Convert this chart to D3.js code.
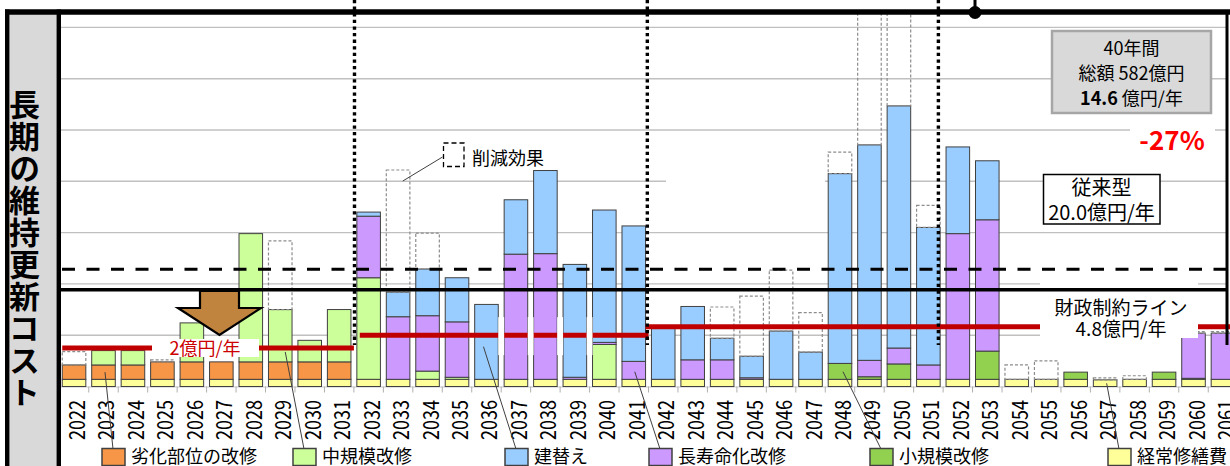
<!DOCTYPE html>
<html>
<head>
<meta charset="utf-8">
<script src="https://cdn.jsdelivr.net/npm/d3@7"></script>
<style>
  html, body { margin: 0; padding: 0; background: #fff; }
  svg { display: block; font-family: "Noto Sans CJK JP", "Noto Sans", sans-serif; }
</style>
</head>
<body>
<svg id="chart" width="1230" height="466"></svg>
<script>
// ---- data (億円) ----
const years = [2022, 2023, 2024, 2025, 2026, 2027, 2028, 2029, 2030, 2031,
               2032, 2033, 2034, 2035, 2036, 2037, 2038, 2039, 2040, 2041,
               2042, 2043, 2044, 2045, 2046, 2047, 2048, 2049, 2050, 2051,
               2052, 2053, 2054, 2055, 2056, 2057, 2058, 2059, 2060, 2061];

// 経常修繕費
const routine = [0.7, 0.7, 0.7, 0.7, 0.7, 0.7, 0.7, 0.7, 0.7, 0.7,
                 0.7, 0.7, 0.7, 0.7, 0.7, 0.7, 0.7, 0.7, 0.7, 0.7,
                 0.7, 0.7, 0.7, 0.7, 0.7, 0.7, 0.7, 0.7, 0.7, 0.7,
                 0.7, 0.7, 0.7, 0.7, 0.7, 0.65, 0.7, 0.7, 0.7, 0.7];
// 劣化部位の改修
const deterioration = [1.4, 1.4, 1.4, 1.7, 1.7, 1.7, 1.7, 1.7, 1.7, 1.7,
                       0, 0, 0, 0, 0, 0, 0, 0, 0, 0,
                       0, 0, 0, 0, 0, 0, 0, 0, 0, 0,
                       0, 0, 0, 0, 0, 0, 0, 0, 0, 0];
// 小規模改修
const smallRepair = [0, 0, 0, 0, 0, 0, 0, 0, 0, 0,
                     0, 0, 0, 0, 0, 0, 0, 0, 0, 0,
                     0, 0, 0, 0, 0, 0, 1.55, 0.25, 1.5, 0,
                     0, 2.75, 0, 0, 0.7, 0, 0, 0.7, 0.1, 0];
// 中規模改修
const midRepair = [0, 1.4, 1.4, 0, 3.8, 0, 12.5, 5.1, 2.1, 5.1,
                   9.9, 0, 0.8, 0.2, 0, 0, 0, 0, 3.4, 0,
                   0, 0, 0, 0, 0, 0, 0, 0, 0, 0,
                   0, 0, 0, 0, 0, 0, 0, 0, 0, 0];
// 長寿命化改修
const longLife = [0, 0, 0, 0, 0, 0, 0, 0, 0, 0,
                  6.0, 6.1, 5.4, 5.4, 0, 12.2, 12.25, 0.2, 0.2, 1.75,
                  0, 1.9, 1.9, 0.15, 0, 0, 0, 1.6, 1.55, 1.4,
                  14.2, 12.8, 0, 0, 0, 0, 0, 0, 4.4, 4.5];
// 建替え
const rebuild = [0, 0, 0, 0, 0, 0, 0, 0, 0, 0,
                 0.4, 2.4, 4.55, 4.3, 7.3, 5.3, 8.1, 11.0, 12.9, 13.2,
                 5.0, 5.2, 2.1, 2.1, 4.7, 2.65, 18.5, 21.0, 23.6, 13.4,
                 8.45, 5.75, 0, 0, 0, 0, 0, 0, 0, 0];
// 削減効果 (従来型との差)
const reduction = [1.3, 0, 0, 0.2, 0, 0, 0, 6.7, 0, 0,
                   0, 11.9, 3.5, 0, 0, 0, 0, 0, 0, 0,
                   0, 0, 3.05, 5.85, 5.95, 3.85, 2.1, 14.0, 11.0, 2.15,
                   0, 0, 1.4, 1.8, 0, 0.2, 0.35, 0, 0.15, 0.15];

const seriesKeys  = ["経常修繕費", "劣化部位の改修", "小規模改修", "中規模改修", "長寿命化改修", "建替え"];
const seriesData  = [routine, deterioration, smallRepair, midRepair, longLife, rebuild];
const seriesColor = ["#ffff99", "#f79646", "#92d050", "#ccff99", "#cc99ff", "#99ccff"];

const legendOrder = ["劣化部位の改修", "中規模改修", "建替え", "長寿命化改修", "小規模改修", "経常修繕費"];
const legendX = [102, 293, 505, 649, 870, 1108];

const gridValues = [5, 10, 15, 20, 25, 30, 35];

// reference lines (億円/年)
const conventionalAvg = 20.0;   // 従来型
const plannedAvg = 14.6;        // 40年間平均
const budgetSegments = [        // 財政制約ライン (start/end as fractional year positions)
  { from: 2021.6, to: 2031.5, value: 2.0 },
  { from: 2031.7, to: 2041.5, value: 3.7 },
  { from: 2041.4, to: 2062, value: 4.8 }
];
const periodBreaks = [2031.52, 2041.46, 2051.34];

// ---- scales ----
const svg = d3.select("#chart");
const W = 1230, H = 466;
const plotLeft = 61, plotRight = 1227, plotTop = 12;

const x = d3.scaleBand().domain(years).range([59.3, 1237.7]).paddingInner(0.2).paddingOuter(0.1);
const xc = d3.scaleLinear().domain([2022, 2061]).range([x(2022) + x.bandwidth() / 2, x(2061) + x.bandwidth() / 2]);
const y = d3.scaleLinear().domain([0, 35]).range([386.5, 27.4]);
// reference lines are drawn on their own (non-proportional) guide scale
const refY = d3.scaleLinear().domain([2, 4.8, 20]).range([348, 326.8, 269.3]);

svg.append("rect").attr("width", W).attr("height", H).attr("fill", "#fff");

const defs = svg.append("defs");
defs.append("clipPath").attr("id", "plotClip")
  .append("rect").attr("x", plotLeft).attr("y", plotTop + 2).attr("width", W - plotLeft).attr("height", 390);

// ---- gridlines ----
svg.append("g").selectAll("line").data(gridValues).join("line")
  .attr("x1", plotLeft).attr("x2", plotRight)
  .attr("y1", d => y(d)).attr("y2", d => y(d))
  .attr("stroke", "#c0c0c0").attr("stroke-width", 1.4);
svg.append("rect").attr("x", 666).attr("y", y(20) - 3).attr("width", 159).attr("height", 6).attr("fill", "#fff");

// baseline and ticks
svg.append("line").attr("x1", plotLeft).attr("x2", W).attr("y1", y(0) + 0.5).attr("y2", y(0) + 0.5)
  .attr("stroke", "#c8c8c8").attr("stroke-width", 1);
svg.append("g").selectAll("line").data(years.slice(1).concat([2062])).join("line")
  .attr("x1", d => x.step() * (d - 2022) + 59.3).attr("x2", d => x.step() * (d - 2022) + 59.3)
  .attr("y1", y(0)).attr("y2", y(0) + 6)
  .attr("stroke", "#b0b0b0").attr("stroke-width", 1);

// ---- stacked bars ----
const table = years.map((yr, i) => {
  const row = { year: yr };
  seriesKeys.forEach((k, j) => { row[k] = seriesData[j][i]; });
  row.reduction = reduction[i];
  return row;
});
const stacked = d3.stack().keys(seriesKeys)(table);

const barsG = svg.append("g").attr("clip-path", "url(#plotClip)");
stacked.forEach((layer, j) => {
  barsG.append("g").selectAll("rect").data(layer.filter(d => d[1] - d[0] > 0)).join("rect")
    .attr("x", d => x(d.data.year))
    .attr("width", x.bandwidth())
    .attr("y", d => y(d[1]))
    .attr("height", d => y(d[0]) - y(d[1]))
    .attr("fill", seriesColor[j])
    .attr("stroke", "#404040").attr("stroke-width", 1);
});
const totals = table.map(r => d3.sum(seriesKeys, k => r[k]));
barsG.append("g").selectAll("rect").data(table.filter(r => r.reduction > 0)).join("rect")
  .attr("x", d => x(d.year))
  .attr("width", x.bandwidth())
  .attr("y", d => y(totals[years.indexOf(d.year)] + d.reduction))
  .attr("height", d => y(totals[years.indexOf(d.year)]) - y(totals[years.indexOf(d.year)] + d.reduction))
  .attr("fill", "none")
  .attr("stroke", "#8c8c8c").attr("stroke-width", 1.2).attr("stroke-dasharray", "3,2");

// ---- down arrow ----
svg.append("path")
  .attr("d", "M200,291 L239,291 L239,308 L261,308 L219.5,335 L178,308 L200,308 Z")
  .attr("fill", "#c0843f").attr("stroke", "#000").attr("stroke-width", 2.2).attr("stroke-linejoin", "miter");

// ---- budget line (red) ----
svg.append("g").selectAll("line").data(budgetSegments).join("line")
  .attr("x1", d => xc(d.from))
  .attr("x2", d => Math.min(W, xc(d.to)))
  .attr("y1", d => refY(d.value)).attr("y2", d => refY(d.value))
  .attr("stroke", "#c00000").attr("stroke-width", 5);

// white gaps between bars 2036-2040 across the red line
svg.append("g").selectAll("rect").data([2036, 2037, 2038, 2039]).join("rect")
  .attr("x", d => x(d) + x.bandwidth())
  .attr("width", x.step() - x.bandwidth())
  .attr("y", refY(3.7) - 18).attr("height", 38)
  .attr("fill", "#fff");

// label boxes over the red line
svg.append("rect").attr("x", 152).attr("y", 339).attr("width", 107).attr("height", 18).attr("fill", "#fff");
svg.append("text").attr("x", 205).attr("y", 355).attr("text-anchor", "middle")
  .attr("font-size", 18).attr("fill", "#cc0000").text("2億円/年");

svg.append("rect").attr("x", 1040).attr("y", 281).attr("width", 158).attr("height", 57).attr("fill", "#fff");
svg.append("text").attr("x", 1121).attr("y", 315).attr("text-anchor", "middle")
  .attr("font-size", 19).attr("fill", "#000").text("財政制約ライン");
svg.append("text").attr("x", 1121).attr("y", 336).attr("text-anchor", "middle")
  .attr("font-size", 19).attr("fill", "#000").text("4.8億円/年");

// ---- conventional (dashed) and planned average (solid) lines ----
svg.append("line").attr("x1", plotLeft + 1).attr("x2", W)
  .attr("y1", refY(conventionalAvg)).attr("y2", refY(conventionalAvg))
  .attr("stroke", "#000").attr("stroke-width", 3).attr("stroke-dasharray", "13,11.5");
svg.append("line").attr("x1", plotLeft).attr("x2", plotRight)
  .attr("y1", refY(plannedAvg)).attr("y2", refY(plannedAvg))
  .attr("stroke", "#000").attr("stroke-width", 3.5);

// ---- period separators ----
svg.append("g").selectAll("line").data(periodBreaks).join("line")
  .attr("x1", d => xc(d)).attr("x2", d => xc(d))
  .attr("y1", 0).attr("y2", 345)
  .attr("stroke", "#000").attr("stroke-width", 3.4).attr("stroke-dasharray", "3.3,3.3");

// ---- 削減効果 key ----
svg.append("rect").attr("x", 443.5).attr("y", 143).attr("width", 20.5).attr("height", 23.5)
  .attr("fill", "#fff").attr("stroke", "#000").attr("stroke-width", 1.3).attr("stroke-dasharray", "5,3");
svg.append("text").attr("x", 472).attr("y", 165).attr("font-size", 18).text("削減効果");
svg.append("line")
  .attr("x1", 442.5).attr("y1", 157)
  .attr("x2", x(2033) + x.bandwidth() * 0.7).attr("y2", y(totals[11] + reduction[11]) + 11)
  .attr("stroke", "#404040").attr("stroke-width", 1);

// ---- summary boxes ----
svg.append("rect").attr("x", 1052).attr("y", 31).attr("width", 159).attr("height", 82)
  .attr("fill", "#d9d9d9").attr("stroke", "#a6a6a6").attr("stroke-width", 2.5);
svg.append("text").attr("x", 1131.5).attr("y", 55).attr("text-anchor", "middle").attr("font-size", 18).text("40年間");
svg.append("text").attr("x", 1131.5).attr("y", 80).attr("text-anchor", "middle").attr("font-size", 18).text("総額 582億円");
const avgText = svg.append("text").attr("x", 1131.5).attr("y", 105).attr("text-anchor", "middle").attr("font-size", 18);
avgText.append("tspan").attr("font-weight", "bold").text(plannedAvg.toFixed(1));
avgText.append("tspan").text(" 億円/年");

svg.append("rect").attr("x", 1130).attr("y", 122).attr("width", 85).attr("height", 36).attr("fill", "#fff");
svg.append("text").attr("x", 1172).attr("y", 150).attr("text-anchor", "middle")
  .attr("font-size", 26).attr("font-weight", "bold").attr("fill", "#ff0000").text("-27%");

svg.append("rect").attr("x", 1043.5).attr("y", 174.5).attr("width", 116.5).attr("height", 49.5)
  .attr("fill", "#fff").attr("stroke", "#000").attr("stroke-width", 1.5);
svg.append("text").attr("x", 1101.5).attr("y", 195).attr("text-anchor", "middle").attr("font-size", 20).text("従来型");
svg.append("text").attr("x", 1101.5).attr("y", 220).attr("text-anchor", "middle").attr("font-size", 20)
  .text(conventionalAvg.toFixed(1) + "億円/年");

// ---- frame ----
svg.append("line").attr("x1", plotRight).attr("x2", plotRight).attr("y1", plotTop).attr("y2", 345)
  .attr("stroke", "#000").attr("stroke-width", 3);
svg.append("rect").attr("x", 7).attr("y", plotTop).attr("width", 52).attr("height", H - plotTop + 5).attr("fill", "#d9d9d9");
svg.append("line").attr("x1", 7.2).attr("x2", 7.2).attr("y1", 9.5).attr("y2", H)
  .attr("stroke", "#000").attr("stroke-width", 4.4);
svg.append("line").attr("x1", 58.8).attr("x2", 58.8).attr("y1", 9.5).attr("y2", H)
  .attr("stroke", "#000").attr("stroke-width", 4.4);
svg.append("line").attr("x1", 5).attr("x2", W).attr("y1", plotTop).attr("y2", plotTop)
  .attr("stroke", "#000").attr("stroke-width", 5.4);
svg.append("line").attr("x1", 975).attr("x2", 975).attr("y1", 0).attr("y2", plotTop)
  .attr("stroke", "#000").attr("stroke-width", 3);
svg.append("circle").attr("cx", 975).attr("cy", plotTop + 0.5).attr("r", 6.5).attr("fill", "#000");

svg.append("text")
  .attr("x", 24.5).attr("y", 89)
  .style("writing-mode", "vertical-rl")
  .attr("font-size", 31).attr("font-weight", "bold").attr("letter-spacing", 1)
  .text("長期の維持更新コスト");

// ---- x labels ----
svg.append("g").selectAll("text").data(years).join("text")
  .attr("transform", d => `translate(${x(d) + x.bandwidth() / 2 + 1},400) rotate(-90)`)
  .attr("text-anchor", "end").attr("dominant-baseline", "central")
  .attr("font-size", 22).attr("textLength", 40).attr("lengthAdjust", "spacingAndGlyphs")
  .attr("fill", "#000")
  .text(d => d);

// ---- legend ----
const legendG = svg.append("g");
legendOrder.forEach((k, i) => {
  const j = seriesKeys.indexOf(k);
  legendG.append("rect").attr("x", legendX[i]).attr("y", 448.5).attr("width", 23).attr("height", 17)
    .attr("fill", seriesColor[j]).attr("stroke", "#404040").attr("stroke-width", 1.5);
  legendG.append("text").attr("x", legendX[i] + 29).attr("y", 463).attr("font-size", 18).text(k);
});

// leader lines from the legend keys to sample bars
const leaders = [
  { key: "劣化部位の改修", year: 2023, value: 1.4, dx: 1.5 },
  { key: "中規模改修",     year: 2029, value: 3.36, dx: 5 },
  { key: "建替え",         year: 2036, value: 3.88, dx: -3 },
  { key: "長寿命化改修",   year: 2041, value: 1.44, dx: 1 },
  { key: "小規模改修",     year: 2048, value: 1.44, dx: 3 },
  { key: "経常修繕費",     year: 2057, value: 0.31, dx: 1.5 }
];
svg.append("g").selectAll("line").data(leaders).join("line")
  .attr("x1", d => x(d.year) + x.bandwidth() / 2 + d.dx)
  .attr("y1", d => y(d.value))
  .attr("x2", d => legendX[legendOrder.indexOf(d.key)] + 11)
  .attr("y2", 449)
  .attr("stroke", "#404040").attr("stroke-width", 1);
</script>
</body>
</html>
